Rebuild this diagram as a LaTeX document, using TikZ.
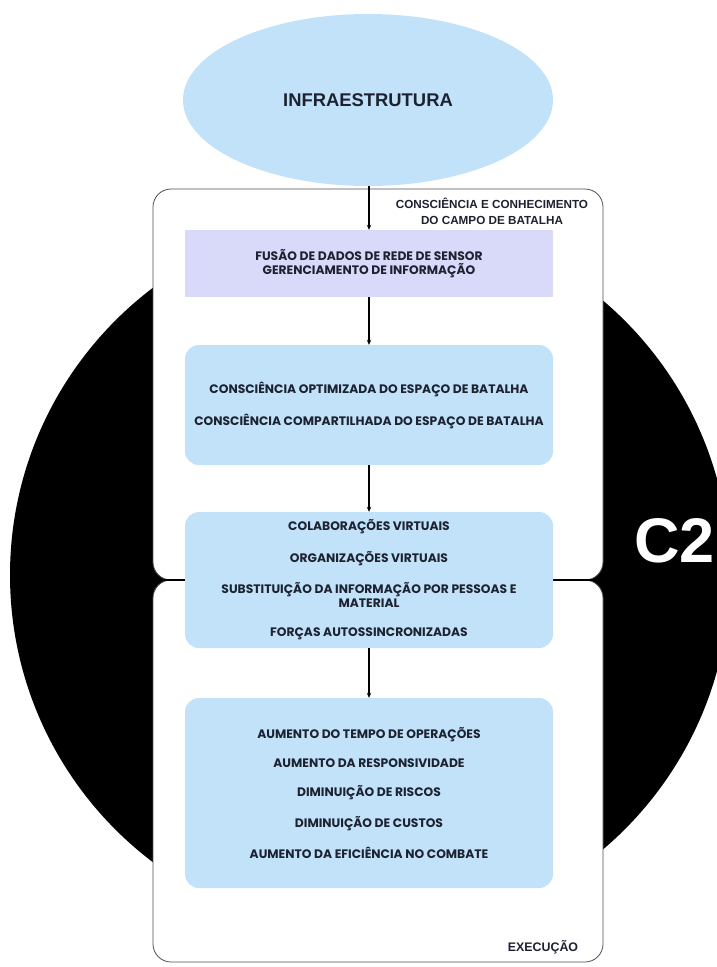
\documentclass[tikz,border=0pt]{standalone}
\usepackage{fontspec}
\setmainfont{Poppins}
\newfontfamily\libsans{Liberation Sans}
\usetikzlibrary{arrows.meta,shapes.geometric}
\definecolor{lblue}{HTML}{C2E2FA}
\definecolor{lav}{HTML}{D9D9F9}
\definecolor{txt}{HTML}{1C2230}
\definecolor{edge}{HTML}{505050}
\begin{document}
\begin{tikzpicture}[x=1pt,y=-1pt,
  panel/.style={draw=edge,line width=0.8pt,fill=white,rounded corners=18pt},
  bluebox/.style={fill=lblue,draw=none,rounded corners=14pt,minimum width=368pt,inner sep=0pt,align=center,text=txt,font=\fontsize{12.3}{14}\selectfont\bfseries},
  arr/.style={-{Stealth[length=5pt,width=4.5pt]},line width=1.1pt,black},
  label/.style={font=\libsans\fontsize{11.7}{16}\selectfont\bfseries,text=txt,align=center,inner sep=0pt}]
\path[use as bounding box] (0,0) rectangle (717,967);
\begin{scope}
\clip (0,0) rectangle (717,967);
\fill[black] (370,575) circle[radius=360];
\end{scope}
\draw[panel] (153,189) rectangle (603,580);
\draw[panel] (153,580) rectangle (603,962);
\coordinate (jl) at (160,580);
\coordinate (jr) at (596,580);
\draw[line width=1.5pt] (jl) -- (jr);
\node[ellipse,fill=lblue,draw=none,minimum width=370pt,minimum height=172pt,inner sep=0pt,font=\libsans\fontsize{18.4}{20}\selectfont\bfseries,text=txt] (infra) at (368,100) {INFRAESTRUTURA};
\node[bluebox,rounded corners=0pt,fill=lav,minimum height=67pt] (b1) at (369,263.5) {FUSÃO DE DADOS DE REDE DE SENSOR\\GERENCIAMENTO DE INFORMAÇÃO};
\node[bluebox,minimum height=120pt] (b2) at (369,405) {CONSCIÊNCIA OPTIMIZADA DO ESPAÇO DE BATALHA\\[16pt]CONSCIÊNCIA COMPARTILHADA DO ESPAÇO DE BATALHA};
\node[bluebox,minimum height=136pt] (b3) at (369,580) {COLABORAÇÕES VIRTUAIS\\[16pt]ORGANIZAÇÕES VIRTUAIS\\[16pt]SUBSTITUIÇÃO DA INFORMAÇÃO POR PESSOAS E\\MATERIAL\\[15pt]FORÇAS AUTOSSINCRONIZADAS};
\node[bluebox,minimum height=190pt] (b4) at (369,793) {AUMENTO DO TEMPO DE OPERAÇÕES\\[15pt]AUMENTO DA RESPONSIVIDADE\\[15pt]DIMINUIÇÃO DE RISCOS\\[15pt]DIMINUIÇÃO DE CUSTOS\\[15pt]AUMENTO DA EFICIÊNCIA NO COMBATE};
\node[label] (hdr) at (492,211) {CONSCIÊNCIA E CONHECIMENTO\\DO CAMPO DE BATALHA};
\node[label,font=\libsans\fontsize{12.4}{16}\selectfont\bfseries] (exec) at (543,947) {EXECUÇÃO};
\node[anchor=west,inner sep=0pt,text=white,font=\libsans\fontsize{63}{68}\selectfont\bfseries] (c2) at (634,541) {C2};
\draw[arr] (b1.north |- infra.south) -- (b1.north);
\draw[arr] (b1.south) -- (b2.north);
\draw[arr] (b2.south) -- (b3.north);
\draw[arr] (b3.south) -- (b4.north);
\end{tikzpicture}
\end{document}
